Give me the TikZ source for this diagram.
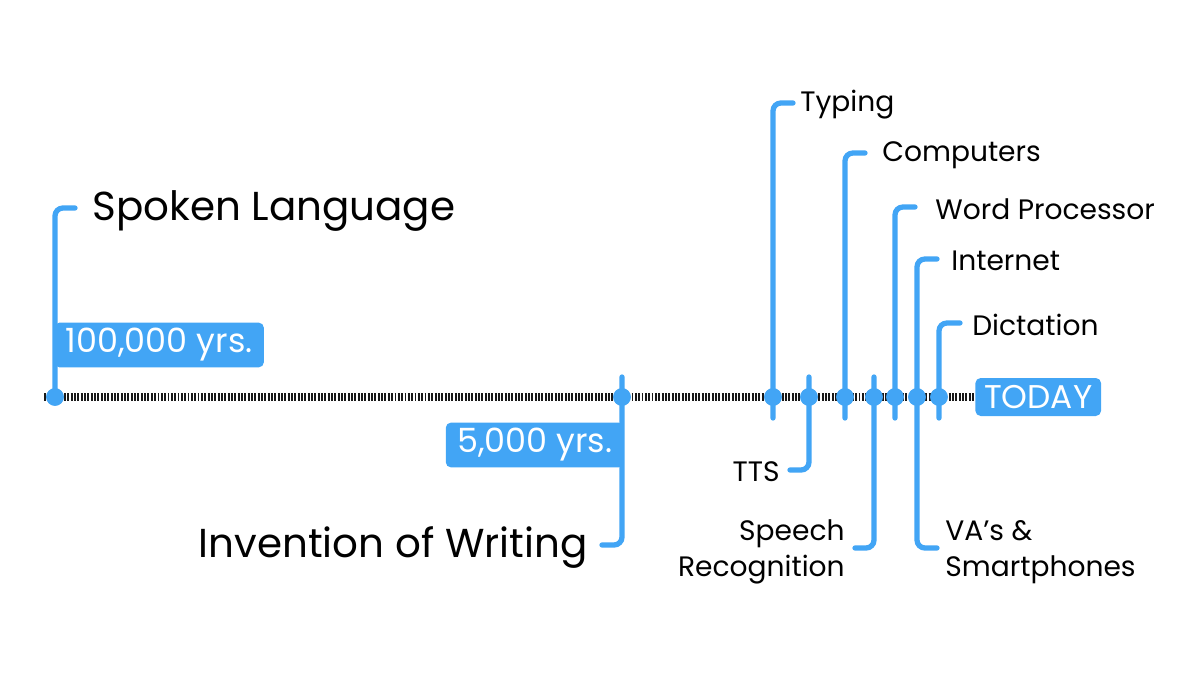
\documentclass[tikz,border=0pt]{standalone}
\usepackage{fontspec}
\setmainfont{Poppins}
\definecolor{tlblue}{RGB}{66,165,245}
\definecolor{tlink}{RGB}{25,25,25}
\tikzset{
  axis/.style={draw=tlink,line width=4.6pt,dash pattern=on 1.1pt off 0.8pt},
  stem/.style={draw=tlblue,line width=3pt,line cap=round,rounded corners=4.5pt},
  dot/.style={shape=circle,fill=tlblue,inner sep=0pt,minimum size=10pt},
  evtext/.style={text=black,inner sep=0pt,font=\fontsize{16}{20.4}\selectfont},
  bigtext/.style={text=black,inner sep=0pt,font=\fontsize{23}{28}\selectfont},
  datebox/.style={fill=tlblue,text=white,rounded corners=3pt,inner xsep=6.5pt,minimum height=0.8cm,font=\fontsize{19}{22}\selectfont}
}
\begin{document}
\begin{tikzpicture}[x=0.02cm,y=-0.02cm]
\useasboundingbox (0,0) rectangle (1200,673);
% time line
\draw [axis] (44,397) -- (975,397);
\path node (today) at (975,397) [anchor=west,datebox,inner xsep=5pt,minimum height=0.76cm,font=\fontsize{18.7}{22}\selectfont] {TODAY};
% ends of the stems
\coordinate (cspoken) at (75,208);
\coordinate (cwriting) at (602,545);
\coordinate (ctyping) at (793,103);
\coordinate (ctts) at (790,470);
\coordinate (ccomputers) at (865,153);
\coordinate (cspeech) at (855,548);
\coordinate (cword) at (915,207);
\coordinate (cinternet) at (937,259);
\coordinate (cvas) at (937,548);
\coordinate (cdictation) at (960,323);
% events on the line
\path node (spoken) at (55,397) [dot] {}
      node (writing) at (622,397) [dot] {}
      node (typing) at (773,397) [dot] {}
      node (tts) at (809,397) [dot] {}
      node (computers) at (845,397) [dot] {}
      node (speech) at (874,397) [dot] {}
      node (word) at (895,397) [dot] {}
      node (internet) at (917,397) [dot] {}
      node (dictation) at (939,397) [dot] {};
\draw [stem] (spoken.center) |- (cspoken);
\draw [stem] (writing.center) ++(0,-20) |- (cwriting);
\draw [stem] (typing.center) ++(0,21) |- (ctyping);
\draw [stem] (tts.center) ++(0,-20) |- (ctts);
\draw [stem] (computers.center) ++(0,21) |- (ccomputers);
\draw [stem] (speech.center) ++(0,-20) |- (cspeech);
\draw [stem] (word.center) ++(0,21) |- (cword);
\draw [stem] (cinternet) -| (internet.center) |- (cvas);
\draw [stem] (dictation.center) ++(0,21) |- (cdictation);
% redraw the dots on top
\path node at (spoken) [dot] {} node at (writing) [dot] {}
      node at (typing) [dot] {} node at (tts) [dot] {}
      node at (computers) [dot] {} node at (speech) [dot] {}
      node at (word) [dot] {} node at (internet) [dot] {}
      node at (dictation) [dot] {};
% dates
\path node (yrs100) at (54,345) [anchor=west,datebox] {100,000 yrs.}
      node (yrs5) at (624,445) [anchor=east,datebox] {5,000 yrs.};
% texts
\path node (lspoken) at ([shift={(17,3)}]cspoken) [anchor=west,bigtext] {Spoken Language}
      node (lwriting) at ([shift={(-14,3)}]cwriting) [anchor=east,bigtext] {Invention of Writing}
      node (ltyping) at ([shift={(7,2)}]ctyping) [anchor=west,evtext] {Typing}
      node (ltts) at ([shift={(-10,2)}]ctts) [anchor=east,evtext] {TTS}
      node (lcomputers) at ([shift={(17,2)}]ccomputers) [anchor=west,evtext] {Computers}
      node (lspeech) at ([shift={(-10,4)}]cspeech) [anchor=east,align=right,evtext] {Speech\\Recognition}
      node (lword) at ([shift={(20,2)}]cword) [anchor=west,evtext] {Word Processor}
      node (linternet) at ([shift={(14,2)}]cinternet) [anchor=west,evtext] {Internet}
      node (lvas) at ([shift={(8,4)}]cvas) [anchor=west,align=left,evtext] {VA’s \&\\Smartphones}
      node (ldictation) at ([shift={(12,2)}]cdictation) [anchor=west,evtext] {Dictation};
\end{tikzpicture}
\end{document}
